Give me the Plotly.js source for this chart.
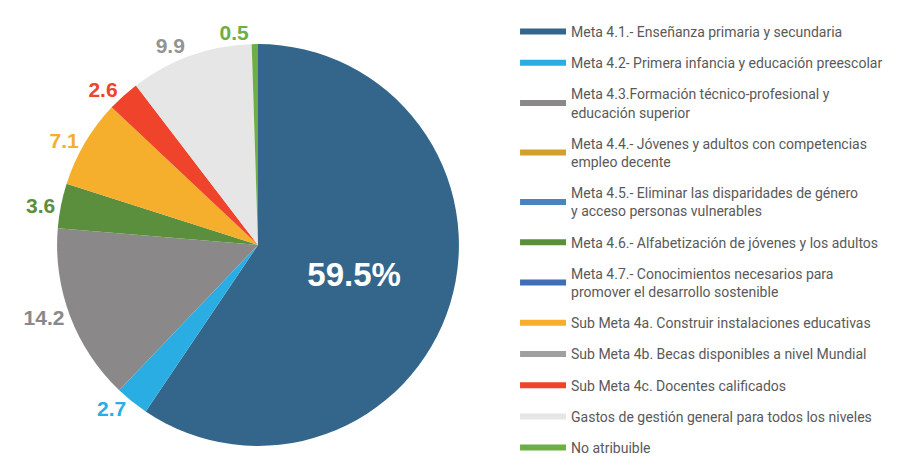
<!DOCTYPE html>
<html>
<head>
<meta charset="utf-8">
<script src="https://cdn.plot.ly/plotly-3.0.1.min.js"></script>
<style>html,body{margin:0;padding:0;background:#fff;}#chart{width:923px;height:464px;}</style>
</head>
<body>
<div id="chart"></div>
<script>
const categories = [
  "Meta 4.1.- Enseñanza primaria y secundaria",
  "Meta 4.2- Primera infancia y educación preescolar",
  "Meta 4.3.Formación técnico-profesional y<br>educación superior",
  "Meta 4.4.- Jóvenes y adultos con competencias<br>empleo decente",
  "Meta 4.5.- Eliminar las disparidades de género<br>y acceso personas vulnerables",
  "Meta 4.6.- Alfabetización de jóvenes y los adultos",
  "Meta 4.7.- Conocimientos necesarios para<br>promover el desarrollo sostenible",
  "Sub Meta 4a. Construir instalaciones educativas",
  "Sub Meta 4b. Becas disponibles a nivel Mundial",
  "Sub Meta 4c. Docentes calificados",
  "Gastos de gestión general para todos los niveles",
  "No atribuible"
];
const values = [59.5, 2.7, 14.2, 0, 0, 3.6, 0, 7.1, 0, 2.6, 9.9, 0.5];
const colors = ["#33668A", "#29ADE3", "#8A8889", "#D4A02C", "#4A84C0", "#5B8F3E", "#3F6DB8", "#F6AE2D", "#A0A0A0", "#EF432B", "#E6E6E6", "#6DAE45"];
const labelColors = ["#FFFFFF", "#29ADE3", "#8A8889", "#D4A02C", "#4A84C0", "#5B8F3E", "#3F6DB8", "#F6AE2D", "#A0A0A0", "#EF432B", "#939393", "#6DAE45"];

const idx = values.map((v, i) => i).filter(i => values[i] > 0);
const lastK = idx.length - 1;
const labelFont = "Liberation Sans, Arial, sans-serif";
const dom = { x: [57 / 923, 459 / 923], y: [0.039, 0.905] };

// main pie: slices + all labels except the tiny last one
const pie = {
  type: "pie",
  labels: idx.map(i => categories[i]),
  values: idx.map(i => values[i]),
  marker: { colors: idx.map(i => colors[i]), line: { width: 0 } },
  sort: false,
  direction: "clockwise",
  rotation: 0,
  text: idx.map((i, k) => k === 0 ? values[i].toFixed(1) + "%" : values[i].toFixed(1)),
  textinfo: "text",
  textposition: idx.map((i, k) => k === 0 ? "inside" : (k === lastK ? "none" : "outside")),
  insidetextorientation: "horizontal",
  insidetextfont: { color: "#FFFFFF", size: 33, family: labelFont, weight: "bold" },
  outsidetextfont: { color: idx.map(i => labelColors[i]), size: 21, family: labelFont, weight: "bold" },
  hoverinfo: "label+value",
  showlegend: false,
  domain: dom
};

// overlay (transparent) carrying only the label of the smallest slice
const pieLabel = {
  type: "pie",
  labels: idx.map(i => categories[i]),
  values: idx.map(i => values[i]),
  marker: { colors: idx.map(() => "rgba(0,0,0,0)"), line: { width: 0 } },
  sort: false,
  direction: "clockwise",
  rotation: 0,
  text: idx.map(i => values[i].toFixed(1)),
  textinfo: "text",
  textposition: idx.map((i, k) => k === lastK ? "outside" : "none"),
  outsidetextfont: { color: idx.map(i => labelColors[i]), size: 21, family: labelFont, weight: "bold" },
  hoverinfo: "skip",
  showlegend: false,
  domain: dom
};

const legendTraces = categories.map((c, i) => ({
  type: "scatter",
  mode: "lines",
  x: [null],
  y: [null],
  name: c,
  legendgroup: "g" + i,
  line: { color: colors[i], width: 6 },
  hoverinfo: "skip",
  showlegend: true
}));

const layout = {
  width: 923,
  height: 464,
  margin: { l: 0, r: 0, t: 0, b: 0 },
  paper_bgcolor: "#FFFFFF",
  plot_bgcolor: "#FFFFFF",
  xaxis: { visible: false },
  yaxis: { visible: false },
  showlegend: true,
  legend: {
    x: 0.558,
    xanchor: "left",
    y: 0,
    yanchor: "bottom",
    itemwidth: 46,
    tracegroupgap: 10,
    traceorder: "grouped",
    font: { family: "Roboto, sans-serif", size: 14, color: "#595959" },
    bgcolor: "rgba(0,0,0,0)"
  }
};

Plotly.newPlot("chart", [pie, pieLabel].concat(legendTraces), layout, { displayModeBar: false });
</script>
</body>
</html>
